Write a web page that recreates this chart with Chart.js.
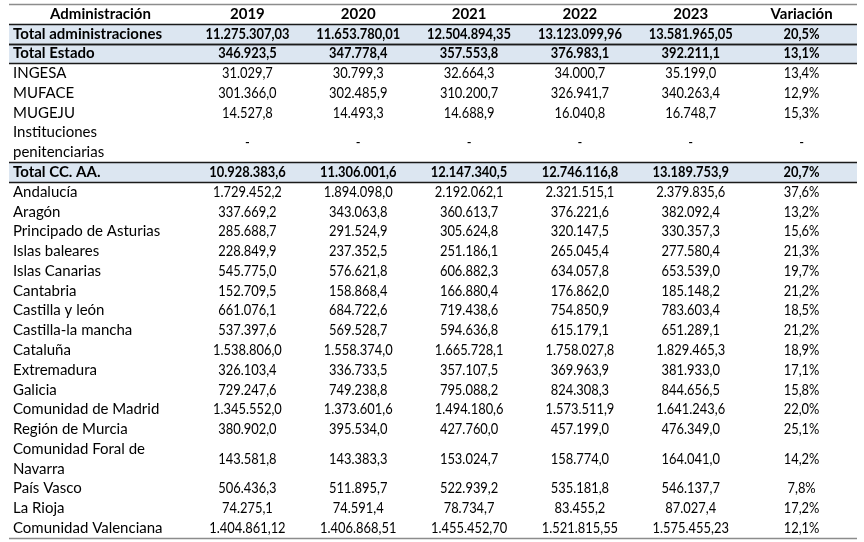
<!DOCTYPE html>
<html>
<head>
<meta charset="utf-8">
<script src="https://cdn.jsdelivr.net/npm/chart.js@4.4.1/dist/chart.umd.min.js"></script>
<style>
  html, body { margin: 0; padding: 0; background: #fff; }
  #wrap { width: 864px; height: 542px; }
</style>
</head>
<body>
<div id="wrap"><canvas id="tabla"></canvas></div>
<script>
// columnas y filas de la tabla
var headerLabel = 'Administración';
var columns = ['2019', '2020', '2021', '2022', '2023', 'Variación'];

var rowLabels = [
    'Total administraciones', 'Total Estado', 'INGESA', 'MUFACE', 'MUGEJU',
    ['Instituciones', 'penitenciarias'], 'Total CC. AA.', 'Andalucía', 'Aragón',
    'Principado de Asturias', 'Islas baleares', 'Islas Canarias', 'Cantabria',
    'Castilla y león', 'Castilla-la mancha', 'Cataluña', 'Extremadura', 'Galicia',
    'Comunidad de Madrid', 'Región de Murcia', ['Comunidad Foral de', 'Navarra'],
    'País Vasco', 'La Rioja', 'Comunidad Valenciana'
];
var totalRows = ['Total administraciones', 'Total Estado', 'Total CC. AA.'];

var v2019 = ['11.275.307,03', '346.923,5', '31.029,7', '301.366,0', '14.527,8', '-', '10.928.383,6',
    '1.729.452,2', '337.669,2', '285.688,7', '228.849,9', '545.775,0', '152.709,5', '661.076,1',
    '537.397,6', '1.538.806,0', '326.103,4', '729.247,6', '1.345.552,0', '380.902,0', '143.581,8',
    '506.436,3', '74.275,1', '1.404.861,12'];
var v2020 = ['11.653.780,01', '347.778,4', '30.799,3', '302.485,9', '14.493,3', '-', '11.306.001,6',
    '1.894.098,0', '343.063,8', '291.524,9', '237.352,5', '576.621,8', '158.868,4', '684.722,6',
    '569.528,7', '1.558.374,0', '336.733,5', '749.238,8', '1.373.601,6', '395.534,0', '143.383,3',
    '511.895,7', '74.591,4', '1.406.868,51'];
var v2021 = ['12.504.894,35', '357.553,8', '32.664,3', '310.200,7', '14.688,9', '-', '12.147.340,5',
    '2.192.062,1', '360.613,7', '305.624,8', '251.186,1', '606.882,3', '166.880,4', '719.438,6',
    '594.636,8', '1.665.728,1', '357.107,5', '795.088,2', '1.494.180,6', '427.760,0', '153.024,7',
    '522.939,2', '78.734,7', '1.455.452,70'];
var v2022 = ['13.123.099,96', '376.983,1', '34.000,7', '326.941,7', '16.040,8', '-', '12.746.116,8',
    '2.321.515,1', '376.221,6', '320.147,5', '265.045,4', '634.057,8', '176.862,0', '754.850,9',
    '615.179,1', '1.758.027,8', '369.963,9', '824.308,3', '1.573.511,9', '457.199,0', '158.774,0',
    '535.181,8', '83.455,2', '1.521.815,55'];
var v2023 = ['13.581.965,05', '392.211,1', '35.199,0', '340.263,4', '16.748,7', '-', '13.189.753,9',
    '2.379.835,6', '382.092,4', '330.357,3', '277.580,4', '653.539,0', '185.148,2', '783.603,4',
    '651.289,1', '1.829.465,3', '381.933,0', '844.656,5', '1.641.243,6', '476.349,0', '164.041,0',
    '546.137,7', '87.027,4', '1.575.455,23'];
var variacion = ['20,5%', '13,1%', '13,4%', '12,9%', '15,3%', '-', '20,7%',
    '37,6%', '13,2%', '15,6%', '21,3%', '19,7%', '21,2%', '18,5%',
    '21,2%', '18,9%', '17,1%', '15,8%', '22,0%', '25,1%', '14,2%',
    '7,8%', '17,2%', '12,1%'];

var series = [v2019, v2020, v2021, v2022, v2023, variacion];

// posicion vertical de cada fila (en unidades de linea)
var rowStart = [];
var pos = 1; // la cabecera ocupa la primera unidad
rowLabels.forEach(function (lbl) {
    rowStart.push(pos);
    pos += Array.isArray(lbl) ? lbl.length : 1;
});
var totalUnits = pos;

var FONT = 'Lato, "Open Sans", sans-serif';
var SIZE = 15;
var DIGIT_SQUEEZE = 0.86; // las cifras de Calibri son mas estrechas

var tablePlugin = {
    id: 'tabla',
    afterDraw: function (chart) {
        var ctx = chart.ctx;
        var x = chart.scales.x, y = chart.scales.y;
        var left = 9, right = 857;
        var firstColCenter = (left + chart.chartArea.left) / 2;

        ctx.save();
        // bandas de totales
        ctx.fillStyle = '#dce6f1';
        rowLabels.forEach(function (lbl, i) {
            if (totalRows.indexOf(lbl) >= 0) {
                var t = y.getPixelForValue(rowStart[i]);
                var b = y.getPixelForValue(rowStart[i] + 1);
                ctx.fillRect(left, t, right - left, b - t);
            }
        });

        // lineas
        function hline(u, color, w) {
            var py = Math.round(y.getPixelForValue(u)) + 0.5;
            ctx.strokeStyle = color;
            ctx.lineWidth = w;
            ctx.beginPath();
            ctx.moveTo(left, py);
            ctx.lineTo(right, py);
            ctx.stroke();
        }
        hline(0, '#8c8c8c', 1.5);
        hline(totalUnits, '#8c8c8c', 1.5);
        rowLabels.forEach(function (lbl, i) {
            if (totalRows.indexOf(lbl) >= 0) {
                hline(rowStart[i], '#1a1a1a', 1.5);
                hline(rowStart[i] + 1, '#1a1a1a', 1.5);
            }
        });

        ctx.fillStyle = '#000';
        ctx.textBaseline = 'middle';

        // cabecera
        ctx.font = 'bold ' + SIZE + 'px ' + FONT;
        ctx.textAlign = 'center';
        var hy = y.getPixelForValue(0.5);
        ctx.fillText(headerLabel, firstColCenter, hy);
        columns.forEach(function (c, j) {
            ctx.fillText(c, x.getPixelForValue(j), hy);
        });

        // filas
        rowLabels.forEach(function (lbl, i) {
            var bold = totalRows.indexOf(lbl) >= 0;
            ctx.font = (bold ? 'bold ' : '') + SIZE + 'px ' + FONT;
            var lines = Array.isArray(lbl) ? lbl : [lbl];
            ctx.textAlign = 'left';
            lines.forEach(function (ln, k) {
                ctx.fillText(ln, 13, y.getPixelForValue(rowStart[i] + k + 0.5));
            });
            var cy = y.getPixelForValue(rowStart[i] + lines.length / 2);
            ctx.textAlign = 'center';
            series.forEach(function (s, j) {
                var w = ctx.measureText(s[i]).width * DIGIT_SQUEEZE;
                ctx.fillText(s[i], x.getPixelForValue(j), cy, w);
            });
        });
        ctx.restore();
    }
};

new Chart(document.getElementById('tabla').getContext('2d'), {
    type: 'bar',
    data: {
        labels: columns,
        datasets: []
    },
    options: {
        responsive: true,
        maintainAspectRatio: false,
        animation: false,
        layout: { padding: { left: 192, right: 7, top: 4, bottom: 4 } },
        plugins: { legend: { display: false }, tooltip: { enabled: false } },
        scales: {
            x: { type: 'category', display: false },
            y: { type: 'linear', display: false, min: 0, max: totalUnits, reverse: true }
        }
    },
    plugins: [tablePlugin]
});
</script>
</body>
</html>
